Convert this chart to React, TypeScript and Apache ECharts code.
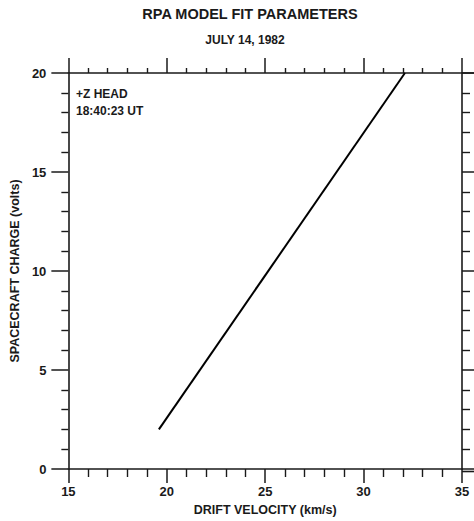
import React, { useEffect, useRef } from "react";
import * as echarts from "echarts";

const titleText = "RPA MODEL FIT PARAMETERS";
const subtitleText = "JULY 14, 1982";
const annotationLines = ["+Z HEAD", "18:40:23 UT"];
const xAxisName = "DRIFT VELOCITY (km/s)";
const yAxisName = "SPACECRAFT CHARGE (volts)";

const xRange = [15, 35];
const yRange = [0, 20];

// fitted line endpoints (drift velocity km/s, spacecraft charge volts)
const driftVelocity = [19.6, 32.1];
const spacecraftCharge = [2, 20];

const FONT = "Liberation Sans, Arial, Helvetica, sans-serif";
const INK = "#1a1a1a";

export default function App() {
  const ref = useRef<HTMLDivElement>(null);

  useEffect(() => {
    if (!ref.current) return;
    const chart = echarts.init(ref.current, undefined, { renderer: "svg" });

    const gridLeft = 64;
    const gridRight = 12;
    const gridTop = 73;
    const gridBottom = 49.5;
    const W = 474;
    const H = 521;

    const axisLine = { show: true, onZero: false, lineStyle: { color: INK, width: 1.6 } };
    const labelStyle = {
      color: INK,
      fontFamily: FONT,
      fontWeight: "bold" as const,
      fontSize: 13,
    };

    const option: any = {
      animation: false,
      backgroundColor: "#ffffff",
      grid: {
        left: gridLeft,
        right: gridRight,
        top: gridTop,
        bottom: gridBottom,
        containLabel: false,
      },
      xAxis: [
        {
          type: "value",
          position: "bottom",
          min: xRange[0],
          max: xRange[1],
          interval: 5,
          axisLine,
          axisTick: { show: true, inside: false, length: 14, lineStyle: { color: INK, width: 1.5 } },
          minorTick: { show: true, splitNumber: 5, length: 8, lineStyle: { color: INK, width: 1.4 } },
          splitLine: { show: false },
          minorSplitLine: { show: false },
          axisLabel: { ...labelStyle, margin: 16 },
          name: xAxisName,
          nameLocation: "middle",
          nameGap: 34,
          nameTextStyle: { ...labelStyle, fontSize: 12.5 },
        },
        {
          type: "value",
          position: "top",
          min: xRange[0],
          max: xRange[1],
          interval: 5,
          axisLine,
          axisTick: { show: true, inside: false, length: 15, lineStyle: { color: INK, width: 1.5 } },
          minorTick: { show: true, splitNumber: 5, length: 5, lineStyle: { color: INK, width: 1.4 } },
          splitLine: { show: false },
          axisLabel: { show: false },
        },
      ],
      yAxis: [
        {
          type: "value",
          position: "left",
          min: yRange[0],
          max: yRange[1],
          interval: 5,
          axisLine,
          axisTick: { show: true, inside: false, length: 17, lineStyle: { color: INK, width: 1.5 } },
          minorTick: { show: true, splitNumber: 5, length: 7, lineStyle: { color: INK, width: 1.4 } },
          splitLine: { show: false },
          minorSplitLine: { show: false },
          axisLabel: { ...labelStyle, margin: 22 },
          name: yAxisName,
          nameLocation: "middle",
          nameGap: 46,
          nameTextStyle: { ...labelStyle, fontSize: 12.5 },
        },
        {
          type: "value",
          position: "right",
          min: yRange[0],
          max: yRange[1],
          interval: 5,
          axisLine,
          axisTick: { show: true, inside: false, length: 12, lineStyle: { color: INK, width: 1.5 } },
          minorTick: { show: true, splitNumber: 5, length: 8, lineStyle: { color: INK, width: 1.4 } },
          splitLine: { show: false },
          axisLabel: { show: false },
        },
      ],
      series: [
        {
          type: "line",
          xAxisIndex: 0,
          yAxisIndex: 0,
          data: driftVelocity.map((v, i) => [v, spacecraftCharge[i]]),
          symbol: "none",
          lineStyle: { color: "#000", width: 2 },
          silent: true,
        },
      ],
      graphic: [
        {
          type: "text",
          x: 250,
          y: 6,
          style: {
            text: titleText,
            fill: INK,
            font: `bold 14.5px ${FONT}`,
            textAlign: "center",
          },
        },
        {
          type: "text",
          x: 245,
          y: 34,
          style: {
            text: subtitleText,
            fill: INK,
            font: `bold 12px ${FONT}`,
            textAlign: "center",
          },
        },
        {
          type: "text",
          x: 76,
          y: 85,
          style: {
            text: annotationLines.join("\n"),
            fill: INK,
            font: `bold 12px ${FONT}`,
            lineHeight: 17,
          },
        },
        {
          type: "line",
          shape: { x1: W - gridRight, y1: gridTop, x2: W, y2: gridTop },
          style: { stroke: INK, lineWidth: 1.6 },
        },
        {
          type: "line",
          shape: { x1: W - gridRight, y1: H - gridBottom, x2: W, y2: H - gridBottom },
          style: { stroke: INK, lineWidth: 1.6 },
        },
      ],
    };

    chart.setOption(option);
    return () => chart.dispose();
  }, []);

  return (
    <div
      ref={ref}
      style={{ position: "fixed", left: 0, top: 0, width: 474, height: 521, background: "#fff" }}
    />
  );
}
